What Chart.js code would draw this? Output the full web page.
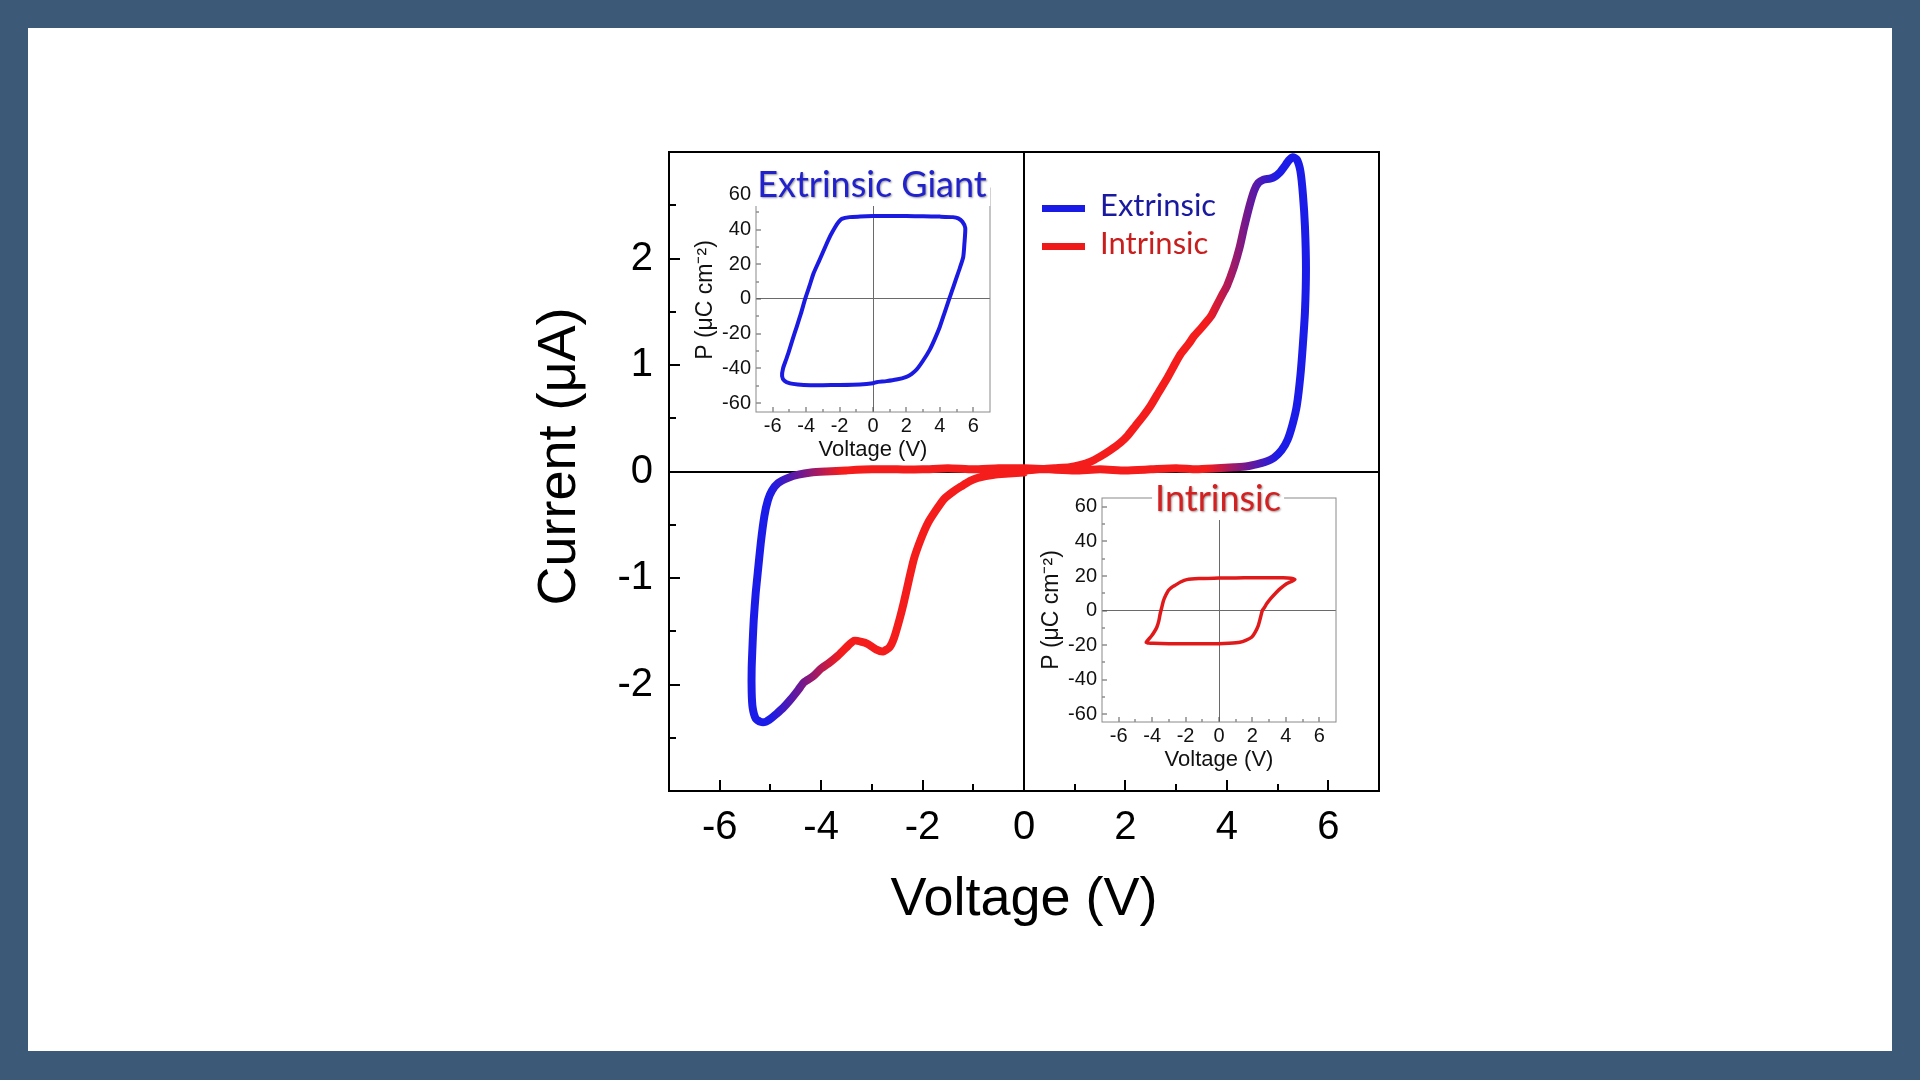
<!DOCTYPE html>
<html>
<head>
<meta charset="utf-8">
<title>I-V loop</title>
<script src="https://cdn.jsdelivr.net/npm/chart.js@4.4.0/dist/chart.umd.min.js"></script>
<style>
	body { margin: 0; width: 1920px; height: 1080px; overflow: hidden; background: #3c5a78; position: relative; }
	#panel { position: absolute; left: 28px; top: 28px; width: 1864px; height: 1023px; background: #fff; }
	canvas { position: absolute; }
	#main { left: 0; top: 0; }
	#inset1 { left: 680px; top: 160px; }
	#inset2 { left: 1026px; top: 470px; }
	.title { position: absolute; transform: translateX(-50%); font-family: Lato, "Open Sans", sans-serif; background: #fff; line-height: 36px; font-size: 36px; padding: 1px 3px 5px 3px; text-shadow: 1px 1px 2px rgba(0,0,0,0.4); white-space: nowrap; }
	#t1 { left: 872px; top: 164px; color: #2222cc; }
	#t2 { left: 1218px; top: 478px; color: #d42020; }
	.leg { position: absolute; left: 1042px; font-family: Lato, "Open Sans", sans-serif; font-size: 31px; line-height: 31px; white-space: nowrap; }
	.leg span.sw { display: inline-block; width: 43px; height: 7px; vertical-align: middle; margin-right: 15px; }
	#leg1 { top: 189px; color: #1a1aa0; }
	#leg2 { top: 227px; color: #c81e1e; }
</style>
</head>
<body>
<div id="panel"></div>
<canvas id="main" width="1920" height="1080"></canvas>
<canvas id="inset1" width="330" height="310"></canvas>
<canvas id="inset2" width="330" height="310"></canvas>
<div class="title" id="t1">Extrinsic Giant</div>
<div class="title" id="t2">Intrinsic</div>
<div class="leg" id="leg1"><span class="sw" style="background:#1a1ae6"></span>Extrinsic</div>
<div class="leg" id="leg2"><span class="sw" style="background:#ee1a1a"></span>Intrinsic</div>
<script>
// main I-V loop (voltage in V, current in uA)
const mainV = [0, 0.3, 0.6, 0.9, 1.1, 1.3, 1.5, 1.7, 1.9, 2.05, 2.2, 2.35, 2.5, 2.65, 2.84, 3.0, 3.1, 3.25, 3.35, 3.5, 3.69, 3.8, 3.92, 4.0, 4.14, 4.25, 4.34, 4.45, 4.54, 4.62, 4.72, 4.85, 4.95, 5.05, 5.13, 5.22, 5.3, 5.38, 5.45, 5.5, 5.54, 5.56, 5.54, 5.5, 5.45, 5.38, 5.3, 5.2, 5.08, 4.93, 4.75, 4.6, 4.4, 4.14, 3.8, 3.4, 3.0, 2.5, 2.0, 1.5, 1.0, 0.5, 0, -0.5, -1.0, -1.5, -2.0, -2.5, -3.0, -3.5, -3.9, -4.2, -4.45, -4.65, -4.85, -4.97, -5.05, -5.12, -5.19, -5.25, -5.29, -5.33, -5.35, -5.37, -5.37, -5.35, -5.29, -5.2, -5.09, -4.99, -4.89, -4.75, -4.6, -4.45, -4.34, -4.15, -4.0, -3.85, -3.67, -3.5, -3.35, -3.2, -3.08, -2.92, -2.78, -2.65, -2.56, -2.45, -2.37, -2.27, -2.17, -2.03, -1.89, -1.73, -1.58, -1.4, -1.24, -1.07, -0.91, -0.59, -0.3, 0];
const mainI = [0.01, 0.02, 0.03, 0.04, 0.06, 0.09, 0.14, 0.2, 0.27, 0.34, 0.43, 0.52, 0.62, 0.74, 0.89, 1.03, 1.11, 1.2, 1.27, 1.35, 1.46, 1.56, 1.67, 1.74, 1.92, 2.1, 2.29, 2.5, 2.64, 2.71, 2.74, 2.75, 2.77, 2.81, 2.86, 2.92, 2.95, 2.93, 2.82, 2.6, 2.3, 1.9, 1.5, 1.2, 0.9, 0.62, 0.45, 0.3, 0.2, 0.13, 0.09, 0.07, 0.05, 0.04, 0.03, 0.02, 0.03, 0.02, 0.01, 0.02, 0.01, 0.02, 0.03, 0.03, 0.02, 0.03, 0.02, 0.02, 0.02, 0.01, 0.0, -0.01, -0.03, -0.06, -0.11, -0.18, -0.27, -0.42, -0.67, -0.95, -1.14, -1.4, -1.6, -1.85, -2.07, -2.22, -2.32, -2.35, -2.35, -2.32, -2.28, -2.22, -2.14, -2.05, -1.98, -1.92, -1.85, -1.8, -1.73, -1.65, -1.59, -1.6, -1.62, -1.67, -1.69, -1.65, -1.56, -1.38, -1.23, -1.02, -0.82, -0.63, -0.48, -0.36, -0.26, -0.19, -0.14, -0.09, -0.06, -0.03, -0.02, -0.01];

// P-E loops of the insets (V, uC cm-2)
const extV = [0, 1, 2, 3, 4, 4.78, 5.1, 5.35, 5.52, 5.47, 5.4, 5.2, 4.95, 4.72, 4.56, 4.28, 4.0, 3.7, 3.4, 3.0, 2.61, 2.3, 2.0, 1.4, 0.8, 0.2, 0, -0.78, -2, -3, -3.76, -4.5, -4.96, -5.3, -5.44, -5.38, -5.2, -5.06, -4.8, -4.56, -4.3, -4.06, -3.8, -3.56, -3.2, -2.86, -2.55, -2.27, -2.05, -1.87, -1.4, -0.78, 0];
const extP = [47.8, 47.9, 47.8, 47.7, 47.5, 47.2, 46.5, 44.5, 41, 32, 24.3, 18, 11, 4.5, 0, -8, -16, -23, -29.2, -35.5, -40.7, -43.3, -44.9, -46.5, -47.4, -48, -48.6, -49.3, -49.6, -49.7, -49.7, -49.3, -48.7, -47.2, -44.5, -40, -35, -31.1, -23, -15.9, -8, 0, 7.5, 14.7, 22.5, 30, 36.5, 41.4, 44.5, 46.2, 47.2, 47.5, 47.8];
const intV = [0, 1, 2, 3, 3.84, 4.3, 4.54, 4.3, 4.04, 3.7, 3.44, 3.1, 2.85, 2.7, 2.59, 2.47, 2.35, 2.15, 1.95, 1.6, 1.25, 0.6, 0, -1, -1.93, -3, -3.92, -4.2, -4.36, -4.15, -4.02, -3.85, -3.72, -3.6, -3.52, -3.42, -3.32, -3.18, -3.03, -2.85, -2.63, -2.3, -1.93, -1.2, 0];
const intP = [18.8, 18.9, 19, 19, 19, 18.7, 18, 16.7, 15.5, 13, 10.6, 7, 3.9, 1.5, 0, -4.5, -8.7, -12.8, -15.5, -17.3, -18.4, -19, -19.3, -19.3, -19.3, -19.2, -19, -18.8, -18.4, -16, -14.5, -12, -9.7, -6, -1.9, 2, 5.8, 9, 11.6, 13.3, 14.6, 16.5, 17.9, 18.5, 18.8];

// colour along the main curve, by voltage
const stopV = [-7, -5.0, -4.4, -3.6, 3.6, 4.4, 5.0, 7];
const stopC = ['#1c1ce8', '#1c1ce8', '#701890', '#f51c1c', '#f51c1c', '#701890', '#1c1ce8', '#1c1ce8'];

Chart.defaults.font.family = '"Liberation Sans", Arial, sans-serif';
Chart.defaults.color = '#000';

function pts (xs, ys) {
	return xs.map(function(x, i) { return {x: x, y: ys[i]}; });
}

// ticks on the inner side + the box round the plot
const innerTicks = {
	id: 'innerTicks',
	afterDatasetsDraw(chart, args, o) {
		const ctx = chart.ctx, a = chart.chartArea, sx = chart.scales.x, sy = chart.scales.y;
		ctx.save();
		ctx.strokeStyle = o.color;
		ctx.lineWidth = o.width;
		ctx.beginPath();
		sx.ticks.forEach(function(t) {
			if (t.value <= sx.min || t.value >= sx.max) return;
			const p = Math.round(sx.getPixelForValue(t.value));
			const len = t.label !== '' ? o.major : o.minor;
			ctx.moveTo(p, a.bottom); ctx.lineTo(p, a.bottom - len);
		});
		sy.ticks.forEach(function(t) {
			if (t.value <= sy.min || t.value >= sy.max) return;
			const p = Math.round(sy.getPixelForValue(t.value));
			const len = t.label !== '' ? o.major : o.minor;
			ctx.moveTo(a.left, p); ctx.lineTo(a.left + len, p);
		});
		ctx.stroke();
		ctx.strokeStyle = o.frameColor;
		ctx.lineWidth = o.frameWidth;
		ctx.strokeRect(a.left, a.top, a.right - a.left, a.bottom - a.top);
		ctx.restore();
	}
};

function zeroGrid (color, width) {
	return {
		drawTicks: false,
		color: function(c) { return c.tick && c.tick.value === 0 ? color : 'rgba(0,0,0,0)'; },
		lineWidth: width
	};
}

// main chart
new Chart(document.getElementById('main'), {
	type: 'scatter',
	data: {
		datasets: [{
			label: 'I-V',
			data: pts(mainV, mainI),
			showLine: true,
			pointRadius: 0,
			borderWidth: 8,
			tension: 0.2,
			borderCapStyle: 'round',
			borderJoinStyle: 'round',
			borderColor: function(c) {
				const chart = c.chart;
				if (!chart.chartArea) return stopC[3];
				const sx = chart.scales.x;
				const x0 = sx.getPixelForValue(stopV[0]), x1 = sx.getPixelForValue(stopV[stopV.length - 1]);
				const g = chart.ctx.createLinearGradient(x0, 0, x1, 0);
				stopV.forEach(function(v, i) { g.addColorStop((v - stopV[0]) / (stopV[stopV.length - 1] - stopV[0]), stopC[i]); });
				return g;
			}
		}]
	},
	options: {
		responsive: false,
		animation: false,
		devicePixelRatio: 1,
		layout: { padding: { left: 528, top: 152, right: 541, bottom: 147 } },
		plugins: {
			legend: { display: false },
			tooltip: { enabled: false },
			innerTicks: { color: '#000', width: 2, major: 11, minor: 7, frameColor: '#000', frameWidth: 2 }
		},
		scales: {
			x: {
				type: 'linear', min: -7, max: 7,
				afterFit: function(s) { s.height = 142; },
				border: { display: false },
				grid: zeroGrid('#000', 2),
				ticks: {
					stepSize: 1, autoSkip: false, maxRotation: 0, padding: 13,
					font: { size: 40 },
					callback: function(v) { return v % 2 === 0 ? String(v) : ''; }
				},
				title: { display: true, text: 'Voltage (V)', font: { size: 54 }, padding: 0 }
			},
			y: {
				type: 'linear', min: -3, max: 3,
				afterFit: function(s) { s.width = 141; },
				border: { display: false },
				grid: zeroGrid('#000', 2),
				ticks: {
					stepSize: 0.5, autoSkip: false, padding: 16,
					font: { size: 40 },
					callback: function(v) { return Number.isInteger(v) && Math.abs(v) < 3 ? String(v) : ''; }
				},
				title: { display: true, text: '\u00a0\u00a0Current (μA)', font: { size: 54 }, padding: 0 }
			}
		}
	},
	plugins: [innerTicks]
});

// the two P-E insets
function inset (id, xs, ys, color, width, ymin, ymax) {
	return new Chart(document.getElementById(id), {
		type: 'scatter',
		data: {
			datasets: [{
				data: pts(xs, ys),
				showLine: true,
				pointRadius: 0,
				borderWidth: width,
				borderColor: color,
				tension: 0.2,
				borderJoinStyle: 'round'
			}]
		},
		options: {
			responsive: false,
			animation: false,
			devicePixelRatio: 1,
			layout: { padding: { left: 12, top: 28, right: 20, bottom: 7 } },
			plugins: {
				legend: { display: false },
				tooltip: { enabled: false },
				innerTicks: { color: '#555', width: 1, major: 5, minor: 3, frameColor: '#8a8a8a', frameWidth: 1 }
			},
			scales: {
				x: {
					type: 'linear', min: -7, max: 7,
					afterFit: function(s) { s.height = 51; },
					border: { display: false },
					grid: zeroGrid('#6a6a6a', 1),
					ticks: {
						stepSize: 1, autoSkip: false, maxRotation: 0, padding: 2,
						font: { size: 20 }, color: '#111',
						callback: function(v) { return v % 2 === 0 ? String(v) : ''; }
					},
					title: { display: true, text: 'Voltage (V)', font: { size: 22 }, padding: 0, color: '#111' }
				},
				y: {
					type: 'linear', min: ymin, max: ymax,
					afterFit: function(s) { s.width = 64; },
					border: { display: false },
					grid: zeroGrid('#6a6a6a', 1),
					ticks: {
						stepSize: 10, autoSkip: false, padding: 5, includeBounds: false,
						font: { size: 20 }, color: '#111',
						callback: function(v) { return v % 20 === 0 ? String(v) : ''; }
					},
					title: { display: true, text: 'P (μC cm⁻²)', font: { size: 23 }, padding: 0, color: '#111' }
				}
			}
		},
		plugins: [innerTicks]
	});
}

inset('inset1', extV, extP, '#1a1ae0', 4, -65.2, 64);
inset('inset2', intV, intP, '#e01a1a', 3.5, -64.6, 65.2);
</script>
</body>
</html>
